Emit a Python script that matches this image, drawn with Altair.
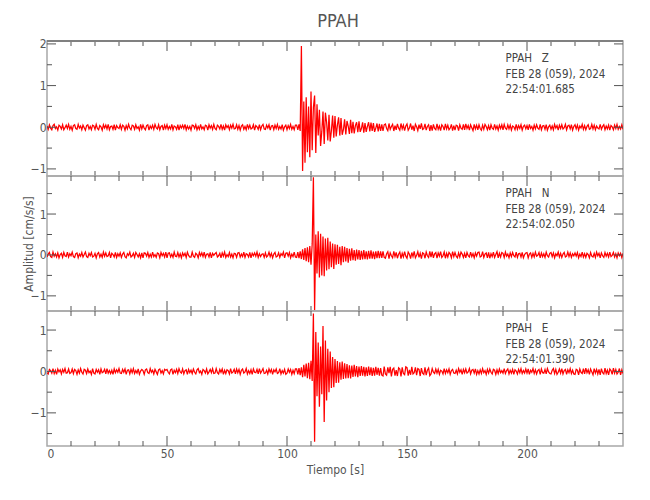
import altair as alt
import numpy as np
import pandas as pd

FONT = "DejaVu Sans Condensed, DejaVu Sans, sans-serif"
W, H = 576, 135
TICK = "#555555"
FRAME = "#a8a8a8"
TXT = "#444444"
NB = "\u00a0"

# ---------------- data (amplitudes in hundredths of cm/s/s), one sample every 0.5 s ----------------
# pre-event: t = 0 .. 103.5 s
Z_pre = [3,-5,6,-2,-6,4,7,-3,1,-7,5,2,-4,6,-6,-1,5,-3,7,-5,
         2,-7,4,6,-3,-5,7,-2,3,-6,5,-1,-7,4,6,-4,2,-6,5,3,
         -5,7,-3,-6,4,1,-7,6,-2,5,-4,7,-6,2,3,-5,6,-7,4,-1,
         -3,6,-5,5,2,-7,4,-4,7,-2,-6,5,3,-5,6,-3,1,-7,7,-4,
         5,-2,-6,4,6,-7,3,-3,5,-5,7,-1,-4,6,-6,2,4,-7,5,-3,
         6,-5,2,-4,7,-6,3,1,-5,6,-7,4,-2,5,-3,7,-6,3,-4,2,
         -7,5,4,-3,6,-6,2,-5,7,-4,1,-6,5,3,-7,6,-2,4,-5,7,
         -3,-6,5,2,-4,7,-5,3,-7,6,-1,4,-6,5,-2,7,-4,-3,6,-5,
         4,-7,3,6,-5,2,-6,7,-3,5,-4,-2,6,-7,4,1,-5,6,-6,3,
         7,-4,-5,5,-2,6,-7,3,4,-6,5,-3,7,-5,2,-4,6,-7,1,5,
         -6,4,-3,7,-5,2,-6,5]
N_pre = [-5,2,6,-4,-6,7,-3,3,-5,5,-7,1,4,-6,6,-2,-4,7,-5,3,
         -2,7,-4,-6,3,5,-7,2,-3,6,-5,1,7,-4,-6,4,-2,6,-5,-3,
         4,-7,3,6,-5,2,-6,7,-3,5,-4,-2,6,-7,4,1,-5,6,-6,3,
         -3,5,-6,2,6,-4,-7,3,-1,7,-5,-2,4,-6,6,1,-5,3,-7,5,
         -7,5,4,-3,6,-6,2,-5,7,-4,1,-6,5,3,-7,6,-2,4,-5,7,
         -7,4,5,-5,2,-6,7,-3,-4,6,-5,3,-7,5,-2,4,-6,7,-1,-5,
         -5,7,-3,-6,4,1,-7,6,-2,5,-4,7,-6,2,3,-5,6,-7,4,-1,
         3,6,-5,-2,4,-7,5,-3,7,-6,1,-4,6,-5,2,-7,4,3,-6,5,
         6,-5,2,-4,7,-6,3,1,-5,6,-7,4,-2,5,-3,7,-6,3,-4,2,
         3,-6,5,-5,-2,7,-4,4,-7,2,6,-5,-3,5,-6,3,-1,7,-7,4,
         5,-3,6,-7,2,-4,7,-5]
E_pre = [-3,-6,5,2,-4,7,-5,3,-7,6,-1,4,-6,5,-2,7,-4,-3,6,-5,
         -3,6,-5,5,2,-7,4,-4,7,-2,-6,5,3,-5,6,-3,1,-7,7,-4,
         -6,5,-2,4,-7,6,-3,-1,5,-6,7,-4,2,-5,3,-7,6,-3,4,-2,
         7,-4,-5,5,-2,6,-7,3,4,-6,5,-3,7,-5,2,-4,6,-7,1,5,
         2,-7,4,6,-3,-5,7,-2,3,-6,5,-1,-7,4,6,-4,2,-6,5,3,
         5,-2,-6,4,6,-7,3,-3,5,-5,7,-1,-4,6,-6,2,4,-7,5,-3,
         3,-5,6,-2,-6,4,7,-3,1,-7,5,2,-4,6,-6,-1,5,-3,7,-5,
         -4,7,-3,-6,5,-2,6,-7,3,-5,4,2,-6,7,-4,-1,5,-6,6,-3,
         5,-7,3,6,-4,-1,7,-6,2,-5,4,-7,6,-2,-3,5,-6,7,-4,1,
         7,-5,-4,3,-6,6,-2,5,-7,4,-1,6,-5,-3,7,-6,2,-4,5,-7,
         -4,6,-2,5,-7,3,-5,6]

# event: t = 104 .. 139.5 s
Z_evt = [5,-6,7,-9,195,-105,62,-85,72,-60,50,-72,86,-55,48,76,
         -62,55,-20,42,-45,-10,38,-40,35,12,-32,30,-34,-8,28,-25,
         27,-22,5,24,-20,22,-18,-6,19,-17,15,3,-16,18,-14,13,
         -15,4,12,-12,14,-11,-3,12,-13,10,-11,2,12,-10,11,-9,
         10,-11,-2,9,-10,8,-9,7]
N_evt = [-6,7,-8,9,-10,14,-12,17,-15,19,-18,22,-24,27,190,-135,
         50,-45,58,-55,52,-50,45,-52,40,-38,42,-35,33,-30,28,-34,
         26,-24,25,-22,20,-25,22,-18,20,-16,17,-19,15,-14,16,-13,
         12,-14,13,-11,12,-12,10,-11,12,-10,9,-11,10,-9,11,-9,
         8,-10,9,-8,10,-8,9,-7]
E_evt = [6,-7,8,-9,10,-14,16,-12,19,-16,21,-19,26,-23,140,-170,
         95,-60,70,-85,60,-55,110,-122,75,-70,55,-50,48,-40,35,-38,
         30,-28,25,-27,22,-20,24,-18,20,-17,18,-16,15,-17,14,-13,
         16,-12,13,-14,12,-11,13,-10,11,-12,10,-11,12,-9,10,-11,
         9,-10,11,-8,9,-10,8,-9]

# post-event: t = 140 .. 240 s
Z_post = [-9,6,8,-3,-8,9,-5,2,7,-9,4,-6,8,-2,-7,9,-4,5,-8,3,
          8,-7,-2,9,-6,4,-9,7,1,-8,6,-4,9,-5,-3,8,-7,2,6,-9,
          5,-8,7,-3,-6,8,-5,3,-8,6,2,-7,8,-4,5,-6,-2,7,-8,4,
          -7,5,3,-8,6,-2,-5,7,-6,8,-3,4,-7,6,-1,-8,7,-4,5,-6,
          6,-3,-7,5,-5,7,2,-6,4,-7,6,-2,-5,7,-4,3,-7,5,-3,6,
          -6,7,-2,-5,6,-4,5,-7,3,1,-6,7,-5,4,-3,6,-7,2,5,-4,
          4,-6,7,-3,2,-7,5,-4,6,-2,-5,7,-6,3,4,-5,6,-7,1,5,
          -5,3,-6,7,-2,4,-7,5,-3,6,-4,-1,7,-6,3,5,-4,6,-7,2,
          6,-4,5,-7,3,-2,7,-5,4,-6,2,6,-5,-3,7,-4,5,-6,3,-2,
          -4,7,-5,2,6,-6,3,-4,5,-7,4,1,-6,5,-3,7,-5,2,-4,6,
          -5]
N_post = [9,-6,-8,3,8,-9,5,-2,-7,9,-4,6,-8,2,7,-9,4,-5,8,-3,
          -8,7,2,-9,6,-4,9,-7,-1,8,-6,4,-9,5,3,-8,7,-2,-6,9,
          -5,8,-7,3,6,-8,5,-3,8,-6,-2,7,-8,4,-5,6,2,-7,8,-4,
          6,-3,-7,5,-5,7,2,-6,4,-7,6,-2,-5,7,-4,3,-7,5,-3,6,
          7,-5,-3,8,-6,2,5,-7,6,-8,3,-4,7,-6,1,8,-7,4,-5,6,
          4,-6,7,-3,2,-7,5,-4,6,-2,-5,7,-6,3,4,-5,6,-7,1,5,
          6,-7,2,5,-6,4,-5,7,-3,-1,6,-7,5,-4,3,-6,7,-2,-5,4,
          6,-4,5,-7,3,-2,7,-5,4,-6,2,6,-5,-3,7,-4,5,-6,3,-2,
          5,-3,6,-7,2,-4,7,-5,3,-6,4,1,-7,6,-3,-5,4,-6,7,-2,
          4,-7,5,-2,-6,6,-3,4,-5,7,-4,-1,6,-5,3,-7,5,-2,4,-6,
          4]
E_post = [-11,12,-6,-9,10,-4,11,-12,5,8,-10,3,-11,9,6,-12,10,-5,-8,11,
          9,-10,4,-8,11,-6,-3,10,-9,7,5,-11,8,-4,-7,10,-9,3,8,-10,
          -6,7,-2,-5,6,-4,5,-7,3,1,-6,7,-5,4,-3,6,-7,2,5,-4,
          -5,3,-6,7,-2,4,-7,5,-3,6,-4,-1,7,-6,3,5,-4,6,-7,2,
          -6,4,-5,7,-3,2,-7,5,-4,6,-2,-6,5,3,-7,4,-5,6,-3,2,
          -4,7,-5,2,6,-6,3,-4,5,-7,4,1,-6,5,-3,7,-5,2,-4,6,
          -4,6,-7,3,-2,7,-5,4,-6,2,5,-7,6,-3,-4,5,-6,7,-1,-5,
          -6,3,7,-5,5,-7,-2,6,-4,7,-6,2,5,-7,4,-3,7,-5,3,-6,
          -7,5,3,-8,6,-2,-5,7,-6,8,-3,4,-7,6,-1,-8,7,-4,5,-6,
          5,-8,7,-3,-6,8,-5,3,-8,6,2,-7,8,-4,5,-6,-2,7,-8,4,
          -5]

labels = ["PPAH" + NB * 3 + "Z\nFEB 28 (059), 2024\n22:54:01.685",
          "PPAH" + NB * 3 + "N\nFEB 28 (059), 2024\n22:54:02.050",
          "PPAH" + NB * 3 + "E\nFEB 28 (059), 2024\n22:54:01.390"]
y_domains = [[-1.17, 2.07], [-1.37, 1.93], [-1.8, 1.46]]
y_major = [[-1, 0, 1, 2], [-1, 0, 1], [-1, 0, 1]]
y_minor = [[-0.5, 0.5, 1.5], [-0.5, 0.5, 1.5], [-1.5, -0.5, 0.5]]
x_domain = [0, 240]
x_labels = [0, 50, 100, 150, 200]
x_major = [50, 100, 150, 200]
x_minor = [10, 20, 30, 40, 60, 70, 80, 90, 110, 120, 130, 140,
           160, 170, 180, 190, 210, 220, 230]
text_t = 191.0

t_grid = np.arange(0, 240.5, 0.5)


def make_panel(i, pre, evt, post, show_x, ytitle):
    vals = np.array(pre + evt + post, dtype=float) / 100.0
    df = pd.DataFrame({"t": t_grid, "v": vals})
    xs = alt.Scale(domain=x_domain, nice=False, zero=False)
    ys = alt.Scale(domain=y_domains[i], nice=False, zero=False)

    if show_x:
        xaxis = alt.Axis(values=x_labels, ticks=False, domain=False, grid=False,
                         labelPadding=2, title="Tiempo [s]", titlePadding=5,
                         format="d")
    else:
        xaxis = None
    yaxis = alt.Axis(values=y_major[i], ticks=False, domain=False, grid=False,
                     labelPadding=1, title=ytitle, titlePadding=-5, format="d")

    line = alt.Chart(df).mark_line(color="#ff0000", strokeWidth=1.25, clip=True).encode(
        x=alt.X("t:Q", scale=xs, axis=xaxis),
        y=alt.Y("v:Q", scale=ys, axis=yaxis),
    )

    layers = [line]

    def xt(vals_, top, length):
        d = pd.DataFrame({"t": vals_})
        y0, y1 = (0, length) if top else (H, H - length)
        return alt.Chart(d).mark_rule(color=TICK, strokeWidth=1).encode(
            x=alt.X("t:Q", scale=xs, axis=xaxis), y=alt.value(y0), y2=alt.value(y1))

    def yt(vals_, left, length):
        d = pd.DataFrame({"v": vals_})
        x0, x1 = (0, length) if left else (W, W - length)
        return alt.Chart(d).mark_rule(color=TICK, strokeWidth=1).encode(
            y=alt.Y("v:Q", scale=ys, axis=yaxis), x=alt.value(x0), x2=alt.value(x1))

    for top in (True, False):
        layers.append(xt(x_minor, top, 5))
        layers.append(xt(x_major, top, 10))
    for left in (True, False):
        layers.append(yt(y_minor[i], left, 5))
        layers.append(yt(y_major[i], left, 9))

    if i == 0:
        layers.append(alt.Chart(pd.DataFrame({"a": [0]})).mark_rule(
            color="#808080", strokeWidth=2).encode(
            x=alt.value(0), x2=alt.value(W), y=alt.value(0)))

    txt = alt.Chart(pd.DataFrame({"t": [text_t], "label": [labels[i]]})).mark_text(
        align="left", baseline="top", font=FONT, fontSize=11.5, color=TXT,
        lineBreak="\n", lineHeight=15.5).encode(
        x=alt.X("t:Q", scale=xs, axis=xaxis), y=alt.value(12), text="label:N")
    layers.append(txt)

    return alt.layer(*layers).properties(width=W, height=H)


p1 = make_panel(0, Z_pre, Z_evt, Z_post, False, None)
p2 = make_panel(1, N_pre, N_evt, N_post, False, "Amplitud [cm/s/s]")
p3 = make_panel(2, E_pre, E_evt, E_post, True, None)

chart = alt.vconcat(p1, p2, p3, spacing=0, bounds="flush").properties(
    title=alt.TitleParams("PPAH", font=FONT, fontSize=18, color="#555555",
                          fontWeight="normal", anchor="middle", offset=6, dx=15),
    padding={"left": 13, "top": 5, "right": 5, "bottom": 5},
).configure_view(stroke=FRAME, strokeWidth=1.5).configure_axis(
    labelFont=FONT, titleFont=FONT, labelFontSize=12, titleFontSize=12,
    labelColor="#555555", titleColor="#555555", titleFontWeight="normal"
)

chart.save("out.html", embed_options={"renderer": "svg", "actions": False})
